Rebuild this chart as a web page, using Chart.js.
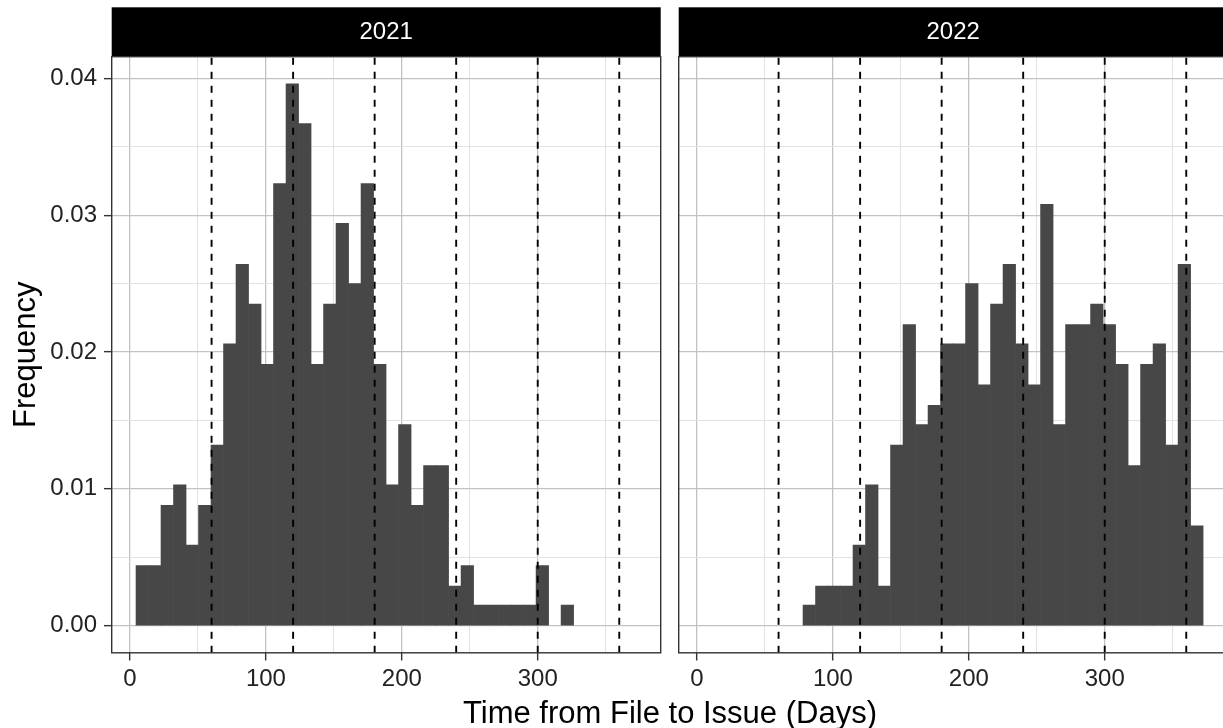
<!DOCTYPE html>
<html>
<head>
<meta charset="utf-8">
<script src="https://cdn.jsdelivr.net/npm/chart.js@4.4.0/dist/chart.umd.min.js"></script>
<style>
  html, body { margin: 0; padding: 0; background: #fff; }
  body { width: 1223px; height: 728px; overflow: hidden; position: relative; }
  canvas { position: absolute; top: 0; }
  #c2021 { left: 0; }
  #c2022 { left: 670px; }
  #xTitle {
    position: absolute; left: 170px; width: 1000px; top: 697px;
    text-align: center; font: 31px/31px 'Liberation Sans', Arial, sans-serif; color: #000;
  }
</style>
</head>
<body>
<canvas id="c2021" width="670" height="728"></canvas>
<canvas id="c2022" width="570" height="728"></canvas>
<div id="xTitle">Time from File to Issue (Days)</div>
<script>
// histogram bins (mid point, days) shared by both facets
var binMid = [9.0, 18.2, 27.4, 36.6, 45.8, 55.0, 64.2, 73.4, 82.6, 91.8,
              101.0, 110.2, 119.4, 128.6, 137.8, 147.0, 156.2, 165.4, 174.6, 183.8,
              193.0, 202.2, 211.4, 220.6, 229.8, 239.0, 248.2, 257.4, 266.6, 275.8,
              285.0, 294.2, 303.4, 312.6, 321.8, 331.0, 340.2, 349.4, 358.6, 367.8];

var freq2021 = [0.0044, 0.0044, 0.0088, 0.0103, 0.0059, 0.0088, 0.0132, 0.0206, 0.0264, 0.0235,
                0.0191, 0.0323, 0.0396, 0.0367, 0.0191, 0.0235, 0.0294, 0.0250, 0.0323, 0.0191,
                0.0103, 0.0147, 0.0088, 0.0117, 0.0117, 0.0029, 0.0044, 0.0015, 0.0015, 0.0015,
                0.0015, 0.0015, 0.0044, 0, 0.0015, 0, 0, 0, 0, 0];

var freq2022 = [0, 0, 0, 0, 0, 0, 0, 0, 0.0015, 0.0029,
                0.0029, 0.0029, 0.0059, 0.0103, 0.0029, 0.0132, 0.0220, 0.0147, 0.0161, 0.0206,
                0.0206, 0.0250, 0.0176, 0.0235, 0.0264, 0.0206, 0.0176, 0.0308, 0.0147, 0.0220,
                0.0220, 0.0235, 0.0220, 0.0191, 0.0117, 0.0191, 0.0206, 0.0132, 0.0264, 0.0073];

var vlineDays = [60, 120, 180, 240, 300, 360];

var xTicks = [0, 50, 100, 150, 200, 250, 300, 350];
var xTickLabels = ['0', '', '100', '', '200', '', '300', ''];
var yTicks = [0, 0.005, 0.01, 0.015, 0.02, 0.025, 0.03, 0.035, 0.04];
var yTickLabels = ['0.00', '', '0.01', '', '0.02', '', '0.03', '', '0.04'];

var xMin = -13.5, xMax = 390.5;
var yMin = -0.00198, yMax = 0.04158;

var fontFam = "'Liberation Sans', Arial, sans-serif";

var stripFrame = {
    id: 'stripFrame',
    beforeDraw: function (chart) {
        var a = chart.chartArea, t = chart.titleBlock, ctx = chart.ctx;
        ctx.save();
        ctx.fillStyle = '#000';
        ctx.fillRect(a.left, t.top, a.right - a.left, t.bottom - t.top);
        ctx.restore();
    },
    afterDraw: function (chart) {
        var a = chart.chartArea, ctx = chart.ctx;
        ctx.save();
        ctx.strokeStyle = '#333';
        ctx.lineWidth = 1.4;
        ctx.strokeRect(a.left, a.top, a.right - a.left, a.bottom - a.top);
        ctx.restore();
    }
};

function gridColor(ctx) { return ctx.index % 2 === 0 ? '#c2c2c2' : '#e2e2e2'; }
function gridWidth(ctx) { return ctx.index % 2 === 0 ? 1.3 : 1; }
function tickColor(ctx) { return ctx.index % 2 === 0 ? '#333' : 'rgba(0,0,0,0)'; }

function makeChart(id, year, values, firstPanel) {
    var datasets = [{
        type: 'bar',
        data: binMid.map(function (x, i) { return {x: x, y: values[i] === 0 ? null : values[i]}; }),
        backgroundColor: '#474747',
        borderWidth: 0,
        barPercentage: 1,
        categoryPercentage: 1,
        order: 2
    }];
    vlineDays.forEach(function (d) {
        datasets.push({
            type: 'line',
            data: [{x: d, y: yMin}, {x: d, y: yMax}],
            borderColor: '#000',
            borderWidth: 1.9,
            borderDash: [7, 7],
            pointRadius: 0,
            fill: false,
            order: 1
        });
    });

    return new Chart(document.getElementById(id).getContext('2d'), {
        type: 'bar',
        data: {datasets: datasets},
        options: {
            responsive: false,
            animation: false,
            events: [],
            layout: {
                padding: firstPanel ? {left: 0, right: 9.3, top: 7.3, bottom: 0}
                                    : {left: 8.7, right: 12.3, top: 7.3, bottom: 0}
            },
            scales: {
                x: {
                    type: 'linear',
                    min: xMin,
                    max: xMax,
                    offset: false,
                    afterFit: function (s) { s.height = 75.2; },
                    afterBuildTicks: function (s) {
                        s.ticks = xTicks.map(function (v) { return {value: v}; });
                    },
                    grid: {
                        offset: false,
                        color: gridColor,
                        lineWidth: gridWidth,
                        tickColor: tickColor,
                        tickLength: 7.7,
                        tickWidth: 1.4
                    },
                    border: {display: false},
                    ticks: {
                        autoSkip: false,
                        maxRotation: 0,
                        padding: 4,
                        color: '#222',
                        font: {family: fontFam, size: 24},
                        callback: function (val, index) { return xTickLabels[index]; }
                    }
                },
                y: {
                    min: yMin,
                    max: yMax,
                    afterFit: function (s) { s.width = firstPanel ? 111.7 : 0; },
                    afterBuildTicks: function (s) {
                        s.ticks = yTicks.map(function (v) { return {value: v}; });
                    },
                    grid: {
                        color: gridColor,
                        lineWidth: gridWidth,
                        tickColor: tickColor,
                        drawTicks: firstPanel,
                        tickLength: 7.7,
                        tickWidth: 1.4
                    },
                    border: {display: false},
                    ticks: {
                        display: firstPanel,
                        autoSkip: false,
                        padding: 7,
                        color: '#222',
                        font: {family: fontFam, size: 24},
                        callback: function (val, index) { return yTickLabels[index]; }
                    },
                    title: {
                        display: firstPanel,
                        text: 'Frequency',
                        color: '#000',
                        font: {family: fontFam, size: 31, lineHeight: 1.2},
                        padding: {top: 8, bottom: 0}
                    }
                }
            },
            plugins: {
                legend: {display: false},
                tooltip: {enabled: false},
                title: {
                    display: true,
                    text: year,
                    fullSize: false,
                    color: '#fff',
                    font: {family: fontFam, size: 24, weight: 'normal', lineHeight: 1.2},
                    padding: {top: 10.3, bottom: 10.3}
                }
            }
        },
        plugins: [stripFrame]
    });
}

var chart2021 = makeChart('c2021', '2021', freq2021, true);
var chart2022 = makeChart('c2022', '2022', freq2022, false);
</script>
</body>
</html>
